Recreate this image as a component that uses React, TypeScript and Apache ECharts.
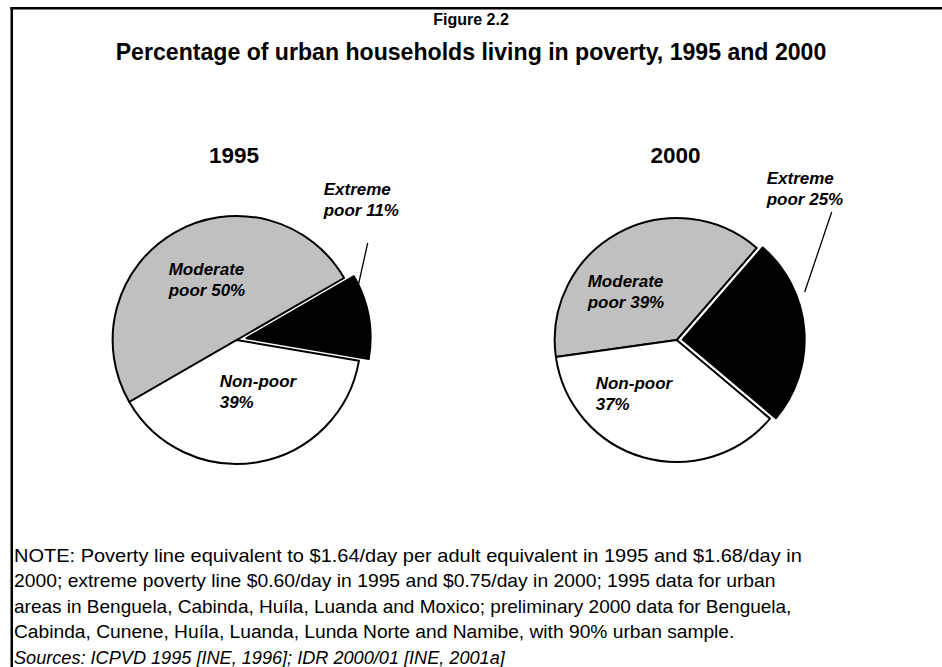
import React, { useEffect, useRef } from "react";
import * as echarts from "echarts";

// ---- data ----
const categories = ["Moderate poor", "Extreme poor", "Non-poor"];
const labelPrefixes = ["Moderate\npoor ", "Extreme\npoor ", "Non-poor\n"];
const years = ["1995", "2000"];
const values1995 = [50, 11, 39];
const values2000 = [39, 25, 37];
const sliceColors = ["#c0c0c0", "#000000", "#ffffff"];
const explodedIndex = 1;

const figureLabel = "Figure 2.2";
const mainTitle = "Percentage of urban households living in poverty, 1995 and 2000";
const noteLines = [
  "NOTE: Poverty line equivalent to $1.64/day per adult equivalent in 1995 and $1.68/day in",
  "2000; extreme poverty line $0.60/day in 1995 and $0.75/day in 2000; 1995 data for urban",
  "areas in Benguela, Cabinda, Huíla, Luanda and Moxico; preliminary 2000 data for Benguela,",
  "Cabinda, Cunene, Huíla, Luanda, Lunda Norte and Namibe, with 90% urban sample.",
];
const sourceLine = "Sources: ICPVD 1995 [INE, 1996]; IDR 2000/01 [INE, 2001a]";

// ---- layout (positions, not data) ----
const W = 942;
const H = 667;
const pieCenters = [
  [236.7, 340],
  [676.7, 340],
];
const pieRadii = [124, 122];
const pieStartAngles = [210, 188];
const explodeOffsets = [10, 6];
const labelOffsets = [
  [
    [-68, -81],
    [87, -161],
    [-17, 31],
  ],
  [
    [-89, -69],
    [90, -172],
    [-81, 33],
  ],
];
const leaderOffsets = [
  [
    [131, -97],
    [121, -52],
  ],
  [
    [155, -128],
    [128, -48],
  ],
];
const noteScaleX = [1.052, 1.016, 1.0, 1.011];
const sourceScaleX = 0.955;

const FONT = '"Liberation Sans", Arial, Helvetica, sans-serif';

export default function App() {
  const ref = useRef<HTMLDivElement>(null);

  useEffect(() => {
    if (!ref.current) return;
    const chart = echarts.init(ref.current, undefined, { renderer: "svg" });
    const allValues = [values1995, values2000];

    const makeSeries = (i: number, exploded: boolean) => {
      const vals = allValues[i];
      const [cx, cy] = pieCenters[i];
      const total = vals.reduce((a, b) => a + b, 0);
      const before = vals.slice(0, explodedIndex).reduce((a, b) => a + b, 0);
      const midDeg =
        pieStartAngles[i] - ((before + vals[explodedIndex] / 2) / total) * 360;
      const mid = (midDeg * Math.PI) / 180;
      const center = exploded
        ? [cx + explodeOffsets[i] * Math.cos(mid), cy - explodeOffsets[i] * Math.sin(mid)]
        : [cx, cy];
      return {
        type: "pie",
        name: years[i] + (exploded ? " exploded" : ""),
        center,
        radius: pieRadii[i],
        startAngle: pieStartAngles[i],
        clockwise: true,
        avoidLabelOverlap: false,
        silent: true,
        z: exploded ? 3 : 2,
        emphasis: { disabled: true },
        label: {
          show: true,
          position: "inside",
          color: "#000",
          fontFamily: FONT,
          fontWeight: "bold",
          fontStyle: "italic",
          fontSize: 17,
          lineHeight: 21,
          align: "left",
          formatter: (p: any) => labelPrefixes[p.dataIndex] + p.value + "%",
        },
        labelLine: { show: false },
        labelLayout: (p: any) => {
          const j = p.dataIndex;
          const off = labelOffsets[i][j];
          const out: any = {
            x: cx + off[0],
            y: cy + off[1],
            align: "left",
            verticalAlign: "top",
          };
          if (exploded && j === explodedIndex) {
            const l = leaderOffsets[i];
            out.labelLinePoints = [
              [cx + l[0][0], cy + l[0][1]],
              [cx + l[1][0], cy + l[1][1]],
            ];
          }
          return out;
        },
        data: vals.map((v, j) => {
          const visible = exploded ? j === explodedIndex : j !== explodedIndex;
          const isExtreme = j === explodedIndex;
          return {
            name: categories[j],
            value: v,
            itemStyle: visible
              ? { color: sliceColors[j], borderColor: "#000", borderWidth: 2 }
              : { color: "rgba(0,0,0,0)", borderColor: "rgba(0,0,0,0)", borderWidth: 0 },
            label: { show: visible, position: isExtreme ? "outside" : "inside" },
            labelLine: {
              show: visible && isExtreme,
              length: 10,
              length2: 0,
              smooth: false,
              lineStyle: { color: "#000", width: 1.3 },
            },
          };
        }),
      };
    };

    const series = [makeSeries(0, false), makeSeries(0, true), makeSeries(1, false), makeSeries(1, true)];

    const txt = (
      text: string,
      x: number,
      y: number,
      font: string,
      align: string,
      scaleX = 1
    ) => ({
      type: "text",
      x,
      y,
      scaleX,
      silent: true,
      style: {
        text,
        font,
        fill: "#000",
        textAlign: align,
        textVerticalAlign: "middle",
        align,
        verticalAlign: "middle",
      },
    });

    const graphic: any[] = [
      {
        type: "line",
        silent: true,
        shape: { x1: 10.5, y1: 8.25, x2: W, y2: 8.25 },
        style: { stroke: "#000", lineWidth: 2.5 },
      },
      {
        type: "line",
        silent: true,
        shape: { x1: 11.75, y1: 7, x2: 11.75, y2: H },
        style: { stroke: "#000", lineWidth: 2.5 },
      },
      txt(figureLabel, 471, 19, `bold 16px ${FONT}`, "center"),
      txt(mainTitle, 471, 52, `bold 23.1px ${FONT}`, "center"),
      txt(years[0], 234, 155, `bold 22.5px ${FONT}`, "center"),
      txt(years[1], 675.5, 155, `bold 22.5px ${FONT}`, "center"),
    ];
    noteLines.forEach((line, k) => {
      graphic.push(txt(line, 14, 555 + k * 25.5, `19px ${FONT}`, "left", noteScaleX[k]));
    });
    graphic.push(
      txt(sourceLine, 14, 555 + 4 * 25.5, `italic 19px ${FONT}`, "left", sourceScaleX)
    );

    chart.setOption({
      animation: false,
      backgroundColor: "#fff",
      series,
      graphic,
    } as any);

    return () => chart.dispose();
  }, []);

  return (
    <div
      ref={ref}
      style={{ position: "fixed", left: 0, top: 0, width: W, height: H, background: "#fff" }}
    />
  );
}
